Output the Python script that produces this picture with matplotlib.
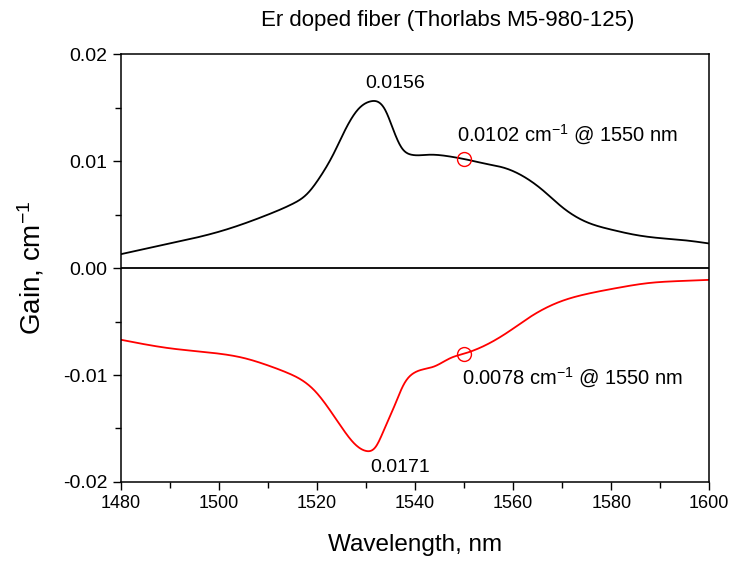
import numpy as np
from matplotlib import pyplot as plt
from matplotlib.ticker import MultipleLocator, FuncFormatter

plt.rcParams['font.family'] = ['Liberation Sans', 'DejaVu Sans']
plt.rcParams['mathtext.fontset'] = 'custom'
plt.rcParams['mathtext.rm'] = 'Liberation Sans'
plt.rcParams['mathtext.default'] = 'regular'

# gain (emission) curve
gain_wl = [1480, 1490, 1500, 1510, 1515, 1517.9, 1520.6, 1523.4, 1525.4, 1528.3,
           1531, 1533.9, 1535.6, 1537.2, 1539.3, 1542.7, 1547.6, 1550, 1555,
           1558, 1562, 1566, 1570, 1575, 1580, 1585, 1590, 1595, 1600]
gain = [0.0013, 0.0023, 0.0034, 0.0050, 0.0060, 0.0069, 0.0085, 0.0107, 0.0126,
        0.0148, 0.0156, 0.0148, 0.0129, 0.0113, 0.0106, 0.0106, 0.0104, 0.0102,
        0.0097, 0.0094, 0.0086, 0.0073, 0.0057, 0.0043, 0.0036, 0.0031, 0.0028,
        0.0026, 0.0023]

# absorption curve (negative)
abs_wl = [1480, 1490, 1500, 1505, 1510, 1514, 1517, 1519.6, 1522.2, 1524.9,
          1527.6, 1530, 1532, 1533.7, 1535.7, 1537.8, 1539.8, 1543.9, 1547.3,
          1550, 1553.5, 1558.9, 1563.7, 1569.8, 1575.2, 1580.7, 1587.6, 1594.5,
          1600]
absn = [-0.0067, -0.0075, -0.0080, -0.0084, -0.0091, -0.0098, -0.0105, -0.0115,
        -0.0130, -0.0148, -0.0164, -0.0171, -0.0167, -0.0151, -0.0130, -0.0108,
        -0.0098, -0.0092, -0.0084, -0.0080, -0.0074, -0.0060, -0.0045, -0.0031,
        -0.0024, -0.0019, -0.0014, -0.0012, -0.0011]

mark_wl = [1550, 1550]
mark_val = [0.0102, -0.0080]


def spline(xs, ys, n=1000):
    # natural cubic spline through the read points
    xs = np.asarray(xs, float)
    ys = np.asarray(ys, float)
    k = len(xs)
    h = np.diff(xs)
    A = np.zeros((k, k))
    b = np.zeros(k)
    A[0, 0] = A[-1, -1] = 1
    for i in range(1, k - 1):
        A[i, i - 1] = h[i - 1]
        A[i, i] = 2 * (h[i - 1] + h[i])
        A[i, i + 1] = h[i]
        b[i] = 6 * ((ys[i + 1] - ys[i]) / h[i] - (ys[i] - ys[i - 1]) / h[i - 1])
    M = np.linalg.solve(A, b)
    xf = np.linspace(xs[0], xs[-1], n)
    j = np.clip(np.searchsorted(xs, xf) - 1, 0, k - 2)
    a = xs[j + 1] - xf
    c = xf - xs[j]
    hj = h[j]
    yf = (M[j] * a**3 / (6 * hj) + M[j + 1] * c**3 / (6 * hj)
          + (ys[j] / hj - M[j] * hj / 6) * a + (ys[j + 1] / hj - M[j + 1] * hj / 6) * c)
    return xf, yf


fig = plt.figure(figsize=(7.32, 5.65), dpi=100)
ax = fig.add_axes([0.165, 0.147, 0.804, 0.757])

x1, y1 = spline(gain_wl, gain)
x2, y2 = spline(abs_wl, absn)
ax.plot(x1, y1, color='black', lw=1.3)
ax.plot(x2, y2, color='red', lw=1.3)
ax.axhline(0, color='black', lw=1.3)
ax.plot(mark_wl, mark_val, 'o', mfc='none', mec='red', ms=10, mew=1.0)

ax.set_xlim(1480, 1600)
ax.set_ylim(-0.02, 0.02)
ax.xaxis.set_major_locator(MultipleLocator(20))
ax.xaxis.set_minor_locator(MultipleLocator(10))
ax.yaxis.set_major_locator(MultipleLocator(0.01))
ax.yaxis.set_minor_locator(MultipleLocator(0.005))
ax.yaxis.set_major_formatter(FuncFormatter(lambda v, p: f'{v:.2f}'.replace('\u2212', '-')))
ax.tick_params(which='major', direction='out', length=6, width=1)
ax.tick_params(which='minor', direction='out', length=4, width=1)
ax.tick_params(axis='x', labelsize=13)
ax.tick_params(axis='y', labelsize=14)
for s in ax.spines.values():
    s.set_linewidth(1.1)

ax.set_xlabel('Wavelength, nm', fontsize=17.5, labelpad=16)
ax.set_ylabel('Gain, cm$^{-1}$', fontsize=20, labelpad=12)

ax.text(1536.0, 0.0168, '0.0156', fontsize=14, ha='center', va='baseline')
ax.text(1548.5, 0.0118, '0.0102 cm$^{-1}$ @ 1550 nm', fontsize=14.5, ha='left', va='baseline')
ax.text(1549.5, -0.0109, '0.0078 cm$^{-1}$ @ 1550 nm', fontsize=14.5, ha='left', va='baseline')
ax.text(1537.0, -0.0191, '0.0171', fontsize=14, ha='center', va='baseline')

fig.text(0.612, 0.963, 'Er doped fiber (Thorlabs M5-980-125)', fontsize=16,
         ha='center', va='center')

fig.savefig('out.png', dpi=100)
